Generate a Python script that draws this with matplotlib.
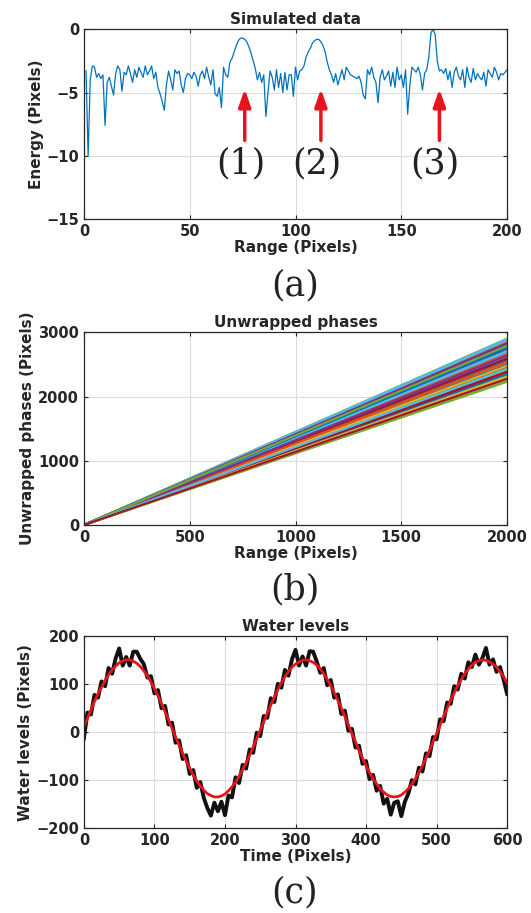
import matplotlib.pyplot as plt
import numpy as np

# (a) simulated energy profile, one value per range pixel 1..200
energy = [-3.3, -10.0, -4.0, -2.9, -3.0, -3.8, -3.5, -3.9, -3.6, -7.6,
          -4.2, -3.8, -4.5, -5.2, -3.5, -2.9, -3.2, -4.9, -3.4, -3.6,
          -2.9, -3.5, -4.2, -3.2, -3.8, -3.0, -3.4, -3.8, -2.9, -3.6,
          -3.3, -2.9, -3.9, -3.4, -4.6, -5.1, -5.7, -6.4, -4.4, -3.3,
          -4.0, -4.8, -3.2, -3.5, -3.3, -4.4, -5.0, -3.9, -3.5, -3.6,
          -3.9, -3.4, -3.7, -4.5, -3.6, -3.3, -3.9, -3.0, -3.8, -4.4,
          -3.2, -5.1, -5.3, -4.6, -6.2, -3.0, -3.6, -3.8, -2.6, -2.3,
          -1.8, -1.3, -0.9, -0.7, -0.7, -0.8, -1.0, -1.4, -1.9, -2.5,
          -3.1, -4.0, -3.4, -4.2, -3.6, -6.9, -5.0, -3.3, -3.8, -4.8,
          -3.2, -4.6, -3.5, -5.0, -3.4, -4.8, -3.6, -3.6, -5.3, -3.0,
          -4.0, -3.3, -3.2, -2.9, -2.2, -1.8, -1.5, -1.1, -0.9, -0.8,
          -0.8, -1.0, -1.3, -1.8, -2.6, -3.2, -3.6, -4.2, -3.5, -4.4,
          -3.8, -3.2, -4.0, -3.0, -3.3, -3.6, -3.7, -3.8, -3.9, -3.7,
          -4.2, -5.2, -5.5, -3.2, -3.6, -3.0, -3.8, -4.2, -5.8, -3.8,
          -3.2, -4.0, -3.7, -3.3, -4.5, -3.4, -4.6, -3.0, -4.0, -3.6,
          -4.6, -3.2, -6.7, -4.5, -3.0, -3.2, -3.4, -3.0, -3.6, -4.8,
          -3.5, -3.2, -2.2, -0.3, 0.0, -0.4, -2.5, -3.3, -3.2, -3.5,
          -3.1, -4.0, -3.3, -4.6, -3.4, -3.0, -3.7, -4.0, -3.2, -4.6,
          -3.0, -3.8, -4.2, -3.1, -4.0, -3.5, -3.8, -4.0, -3.4, -4.5,
          -3.2, -3.5, -3.8, -3.0, -3.4, -4.0, -3.5, -3.6, -3.4, -3.2]
target_pos = [76, 112, 168]
target_names = ['(1)', '(2)', '(3)']

# (b) unwrapped phase value reached at range 2000, one per line
phase_end = [2652, 2318, 2886, 2470, 2742, 2262, 2566, 2822, 2398, 2694,
             2526, 2902, 2342, 2606, 2782, 2446, 2238, 2718, 2502, 2854,
             2374, 2630, 2294, 2766, 2550, 2422, 2894, 2670, 2486, 2334,
             2806, 2582, 2254, 2726, 2454, 2614, 2862, 2366, 2558, 2750,
             2414, 2686, 2286, 2838, 2518, 2646, 2326, 2798, 2462, 2574,
             2870, 2406, 2702, 2302, 2622, 2774, 2494, 2846, 2358, 2598,
             2230, 2678, 2390, 2814, 2534, 2270, 2734, 2438, 2878, 2590,
             2350, 2662, 2478, 2830, 2246, 2710, 2382, 2758, 2542, 2310,
             2638, 2790, 2430, 2278]
phase_range = [0, 2000]

# (c) water levels every 5 time steps
time = list(range(0, 601, 5))
level_obs = [-13, 41, 37, 78, 72, 106, 96, 134, 122, 154,
             175, 139, 157, 139, 168, 168, 153, 142, 114, 117,
             81, 88, 50, 55, 16, 20, -22, -17, -56, -48,
             -87, -79, -116, -104, -137, -158, -174, -147, -165, -145,
             -173, -132, -136, -94, -106, -68, -76, -36, -43, -1,
             -8, 34, 30, 71, 63, 101, 93, 130, 118, 152,
             172, 139, 158, 139, 169, 168, 148, 124, 134, 98,
             109, 72, 79, 38, 45, 3, 7, -32, -28, -66,
             -60, -98, -89, -122, -112, -149, -139, -172, -147, -144,
             -175, -145, -128, -100, -109, -74, -82, -44, -50, -10,
             -15, 27, 23, 62, 59, 96, 89, 122, 112, 146,
             136, 162, 141, 155, 176, 141, 152, 126, 136, 110, 80]
level_fit = [12, 29, 47, 64, 80, 94, 108, 120, 130, 138,
             145, 149, 151, 151, 148, 144, 137, 128, 118, 105,
             91, 76, 60, 43, 26, 8, -10, -27, -44, -60,
             -75, -89, -102, -112, -121, -128, -132, -135, -135, -133,
             -129, -122, -114, -104, -92, -78, -64, -48, -31, -13,
             4, 22, 40, 57, 73, 89, 103, 116, 126, 136,
             142, 147, 150, 151, 149, 146, 140, 132, 122, 110,
             97, 82, 67, 50, 33, 15, -3, -20, -38, -54,
             -70, -84, -97, -108, -118, -125, -131, -134, -135, -134,
             -131, -125, -118, -108, -97, -84, -70, -54, -38, -20,
             -3, 15, 33, 50, 67, 82, 97, 110, 122, 132,
             140, 146, 149, 151, 150, 147, 142, 136, 126, 116, 103]

matlab_colors = ['#0072BD', '#D95319', '#EDB120', '#7E2F8E',
                 '#77AC30', '#4DBEEE', '#A2142F']
ink = '#262626'

plt.rcParams['font.family'] = 'DejaVu Sans'
plt.rcParams['font.size'] = 10.5

fig = plt.figure(figsize=(5.31, 9.13), dpi=100)


def style(ax):
    ax.grid(True, color='#dcdcdc', linewidth=0.8)
    ax.set_axisbelow(True)
    ax.tick_params(direction='in', length=3, colors=ink, labelsize=10.5,
                   top=True, right=True, labeltop=False, labelright=False)
    for sp in ax.spines.values():
        sp.set_color(ink)
        sp.set_linewidth(0.9)
    for lab in ax.get_xticklabels() + ax.get_yticklabels():
        lab.set_fontweight('bold')


# (a)
ax1 = fig.add_axes([0.158, 0.760, 0.797, 0.208])
ax1.plot(np.arange(1, len(energy) + 1), energy, color='#0072BD', lw=0.9)
for xp, name in zip(target_pos, target_names):
    ax1.annotate('', xy=(xp, -4.5), xytext=(xp, -9.0),
                 arrowprops=dict(arrowstyle='-|>,head_width=0.35,head_length=1.0',
                                 color='#e8141c', lw=2.5))
    ax1.text(xp - 2, -10.6, name, ha='center', va='center', fontsize=25,
             family='DejaVu Serif', color='#222222')
ax1.set_xlim(0, 200)
ax1.set_ylim(-15, 0)
ax1.set_xticks([0, 50, 100, 150, 200])
ax1.set_yticks([-15, -10, -5, 0])
ax1.set_title('Simulated data', fontweight='bold', fontsize=11, color=ink, pad=4)
ax1.set_xlabel('Range (Pixels)', fontweight='bold', fontsize=11, color=ink, labelpad=1)
ax1.set_ylabel('Energy (Pixels)', fontweight='bold', fontsize=11, color=ink, labelpad=2)
style(ax1)

# (b)
ax2 = fig.add_axes([0.158, 0.425, 0.797, 0.211])
for i, end in enumerate(phase_end):
    ax2.plot(phase_range, [0, end], color=matlab_colors[i % 7], lw=1.5,
             solid_capstyle='butt')
ax2.set_xlim(0, 2000)
ax2.set_ylim(0, 3000)
ax2.set_xticks([0, 500, 1000, 1500, 2000])
ax2.set_yticks([0, 1000, 2000, 3000])
ax2.set_title('Unwrapped phases', fontweight='bold', fontsize=11, color=ink, pad=4)
ax2.set_xlabel('Range (Pixels)', fontweight='bold', fontsize=11, color=ink, labelpad=1)
ax2.set_ylabel('Unwrapped phases (Pixels)', fontweight='bold', fontsize=11,
               color=ink, labelpad=2)
style(ax2)

# (c)
ax3 = fig.add_axes([0.158, 0.093, 0.797, 0.210])
ax3.plot(time, level_obs, color='#111111', lw=2.8)
ax3.plot(time, level_fit, color='#e8141c', lw=2.0)
ax3.set_xlim(0, 600)
ax3.set_ylim(-200, 200)
ax3.set_xticks([0, 100, 200, 300, 400, 500, 600])
ax3.set_yticks([-200, -100, 0, 100, 200])
ax3.set_title('Water levels', fontweight='bold', fontsize=11, color=ink, pad=4)
ax3.set_xlabel('Time (Pixels)', fontweight='bold', fontsize=11, color=ink, labelpad=1)
ax3.set_ylabel('Water levels (Pixels)', fontweight='bold', fontsize=11,
               color=ink, labelpad=2)
style(ax3)

for ypos, tag in [(0.687, '(a)'), (0.354, '(b)'), (0.023, '(c)')]:
    fig.text(0.555, ypos, tag, ha='center', va='center', fontsize=25,
             family='DejaVu Serif', color='#222222')

fig.savefig('out.png', dpi=100)
